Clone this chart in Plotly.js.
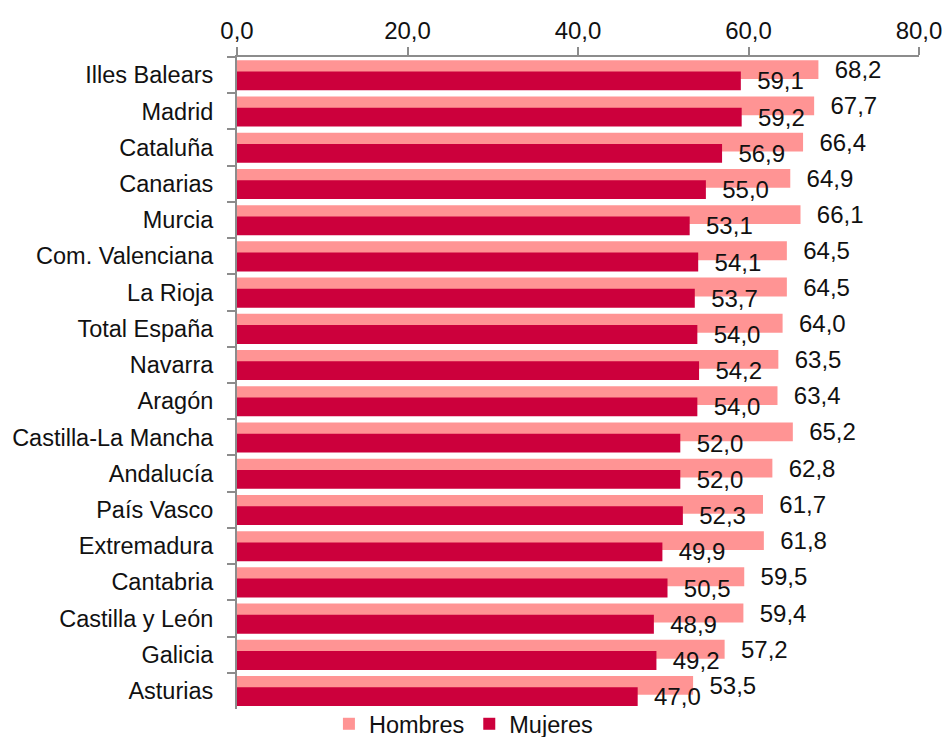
<!DOCTYPE html>
<html>
<head>
<meta charset="utf-8">
<script src="https://cdn.plot.ly/plotly-3.0.1.min.js"></script>
<style>html,body{margin:0;padding:0;background:#fff;}#chart{width:947px;height:737px;}</style>
</head>
<body>
<div id="chart"></div>
<script>
const regiones = ["Illes Balears","Madrid","Cataluña","Canarias","Murcia","Com. Valenciana","La Rioja","Total España","Navarra","Aragón","Castilla-La Mancha","Andalucía","País Vasco","Extremadura","Cantabria","Castilla y León","Galicia","Asturias"];
const hombres = [68.2,67.7,66.4,64.9,66.1,64.5,64.5,64.0,63.5,63.4,65.2,62.8,61.7,61.8,59.5,59.4,57.2,53.5];
const mujeres = [59.1,59.2,56.9,55.0,53.1,54.1,53.7,54.0,54.2,54.0,52.0,52.0,52.3,49.9,50.5,48.9,49.2,47.0];
const xTicks = [0,20,40,60,80];

const FONT = "Liberation Sans, Arial, sans-serif";
const NB = "\u00A0\u00A0";

const traces = [
  {
    type: "bar", orientation: "h", name: "Hombres",
    y: regiones, x: hombres,
    offset: -0.41, width: 0.52,
    marker: {color: "#FF9494"},
    text: hombres, texttemplate: NB + "%{x:.1f}",
    textposition: "outside", cliponaxis: false, constraintext: "none",
    textfont: {family: FONT, size: 24, color: "#111"},
    hoverinfo: "skip"
  },
  {
    type: "bar", orientation: "h", name: "Mujeres",
    y: regiones, x: mujeres,
    offset: -0.10, width: 0.52,
    marker: {color: "#CC003C"},
    text: mujeres, texttemplate: NB + "%{x:.1f}",
    textposition: "outside", cliponaxis: false, constraintext: "none",
    textfont: {family: FONT, size: 24, color: "#111"},
    hoverinfo: "skip"
  }
];

const layout = {
  width: 947, height: 737,
  margin: {l: 237, r: 28, t: 57, b: 28, autoexpand: false},
  paper_bgcolor: "#fff", plot_bgcolor: "#fff",
  separators: ",.",
  barmode: "overlay",
  font: {family: FONT, color: "#111", size: 24},
  xaxis: {
    side: "top", range: [0, 80], tickvals: xTicks, tickformat: ".1f",
    showgrid: false, zeroline: false,
    showline: true, linecolor: "#8c8c8c", linewidth: 2,
    ticks: "outside", ticklen: 8, tickwidth: 2, tickcolor: "#8c8c8c",
    tickfont: {family: FONT, size: 24, color: "#111"},
    ticklabelstandoff: -2
  },
  yaxis: {
    type: "category", range: [17.5, -0.5],
    showgrid: false, zeroline: false,
    showline: true, linecolor: "#8c8c8c", linewidth: 2,
    ticks: "outside", ticklen: 8, tickwidth: 2, tickcolor: "#8c8c8c",
    tickson: "boundaries",
    tickfont: {family: FONT, size: 23.5, color: "#111"},
    ticklabelstandoff: 17
  },
  showlegend: true,
  legend: {
    orientation: "h", x: 0.332, xanchor: "center", y: -0.023, yanchor: "middle",
    font: {family: FONT, size: 23.5, color: "#111"},
    itemwidth: 30, traceorder: "normal", bgcolor: "rgba(0,0,0,0)"
  }
};

Plotly.newPlot("chart", traces, layout, {staticPlot: true, displayModeBar: false});
</script>
</body>
</html>
